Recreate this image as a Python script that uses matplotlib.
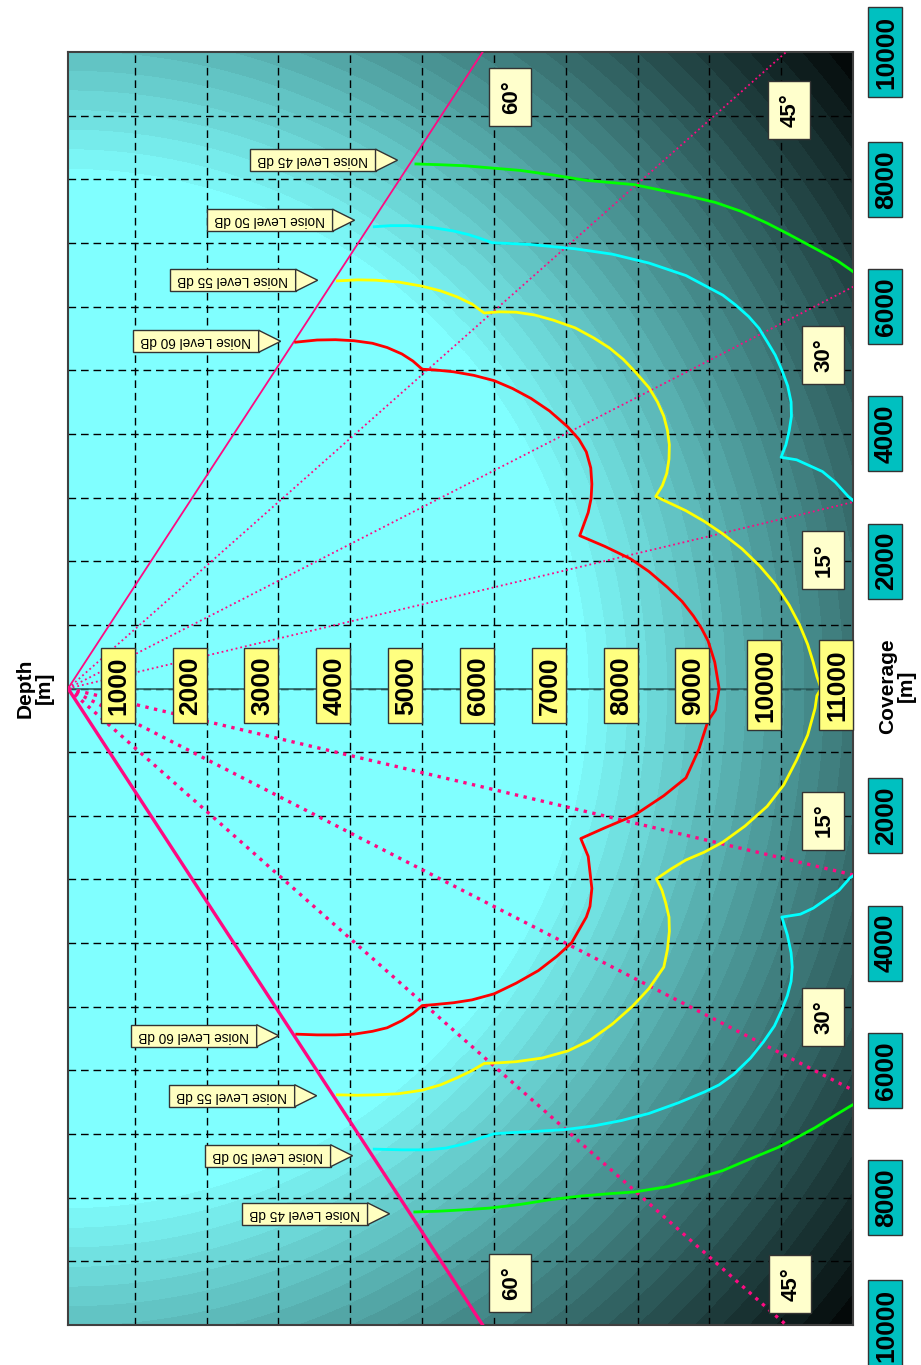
import numpy as np
import matplotlib
matplotlib.use('Agg')
import matplotlib.pyplot as plt
import matplotlib.transforms as mtransforms
from matplotlib.patches import Rectangle, Polygon

plt.rcParams['font.family'] = ['Liberation Sans', 'DejaVu Sans']

# chart is turned on its side: depth runs left -> right, coverage up/down
depth_min, depth_max = 70, 11000
cov_min, cov_max = -10000, 10000
apex_depth = 70

depth_labels = [1000, 2000, 3000, 4000, 5000, 6000, 7000, 8000, 9000, 10000, 11000]
cov_ticks = [10000, 8000, 6000, 4000, 2000, -2000, -4000, -6000, -8000, -10000]
sector_angles = [15, 30, 45, 60]

# coverage contours, upper branch then lower branch (nan = break)
red_depth = [3240, 3538, 3795, 4051, 4308, 4514, 4719, 4872, 5002, 5180, 5438, 5720, 6003,
             6260, 6517, 6774, 7030, 7185, 7287, 7349, 7364, 7354, 7313, 7195, 7544, 7903,
             8160, 8417, 8622, 8777, 8890, 8982, 9075, 9136,
             9085, 8982, 8854, 8674, 8366, 7955, 7544, 7210, 7313, 7364, 7338, 7287, 7082,
             6876, 6619, 6311, 6003, 5695, 5438, 5181, 5002, 4873, 4719, 4514, 4308, 4051,
             3795, 3538, 3255]
red_cov = [5441, 5475, 5480, 5464, 5424, 5357, 5256, 5145, 5016, 5005, 4976, 4920, 4837,
           4713, 4557, 4361, 4109, 3913, 3717, 3465, 3213, 2989, 2765, 2401, 2233, 2037,
           1837, 1589, 1365, 1141, 946, 749, 414, 0,
           -338, -506, -955, -1404, -1684, -1993, -2189, -2357, -2638, -3142, -3423, -3591, -3995,
           -4208, -4432, -4629, -4797, -4892, -4937, -4965, -4982, -5105, -5218, -5330, -5386, -5431,
           -5442, -5442, -5431]

yellow_depth = [3820, 4103, 4360, 4668, 5002, 5258, 5489, 5695, 5864, 6080, 6311, 6568, 6825,
                7133, 7390, 7610, 7801, 7980, 8160, 8278, 8366, 8417, 8443, 8438, 8407, 8346,
                8253, 8674, 8931, 9188, 9455, 9701, 9922, 10112, 10256, 10369, 10446, 10497, 10556,
                10497, 10472, 10369, 10215, 10035, 9804, 9496, 9188, 8931, 8674, 8468, 8263,
                8340, 8392, 8438, 8443, 8417, 8366, 8160, 7929, 7647, 7338, 7030, 6671, 6311,
                6080, 5864, 5695, 5489, 5258, 5002, 4668, 4360, 4103, 3820]
yellow_cov = [6404, 6420, 6415, 6387, 6320, 6247, 6152, 6040, 5900, 5918, 5912, 5868, 5788,
              5665, 5508, 5350, 5172, 4960, 4725, 4501, 4277, 4053, 3829, 3605, 3381, 3190,
              3017, 2793, 2625, 2429, 2194, 1925, 1634, 1309, 1001, 693, 413, 190, 0,
              -114, -310, -731, -1123, -1516, -1852, -2161, -2413, -2570, -2694, -2834, -2991,
              -3170, -3367, -3591, -3816, -4096, -4376, -4713, -4993, -5274, -5526, -5694, -5806, -5863,
              -5880, -5891, -6003, -6115, -6227, -6311, -6367, -6384, -6390, -6384]

cyan_depth = [4334, 4565, 4822, 5130, 5438, 5644, 5798, 5977, 6250, 6517, 7133, 7647, 8160,
              8674, 9188, 9367, 9547, 9691, 9804, 9917, 10009, 10091, 10138, 10143, 10112,
              10066, 9999, 10215, 10574, 10754, 10934, 11060, np.nan,
              11060, 10959, 10805, 10626, 10446, 10267, 10009, 10086, 10138, 10154, 10138,
              10086, 10009, 9906, 9752, 9573, 9341, 9136, 8931, 8571, 8160, 7775, 7390, 7005,
              6619, 6311, 6003, 5798, 5592, 5335, 5079, 4719, 4334]
cyan_cov = [7255, 7272, 7272, 7244, 7188, 7132, 7076, 7003, 6990, 6975, 6908, 6824, 6684,
            6488, 6180, 6024, 5844, 5659, 5452, 5239, 5004, 4753, 4501, 4277, 4053,
            3829, 3633, 3593, 3409, 3241, 3017, 2900, np.nan,
            -2900, -2974, -3171, -3311, -3451, -3546, -3591, -3872, -4152, -4376, -4601,
            -4825, -5049, -5302, -5554, -5806, -6059, -6227, -6339, -6508, -6676, -6788, -6872, -6928,
            -6956, -6973, -6996, -7068, -7153, -7220, -7248, -7248, -7237]

green_depth = [4914, 5233, 5592, 6363, 6825, 7287, 7955, 8674, 9085, 9444, 9804, 10112, 10574,
               10780, 10959, 11060, np.nan,
               11060, 10959, 10728, 10472, 10215, 9958, 9598, 9188, 8777, 8417, 7955, 7595,
               7184, 6773, 6363, 5952, 5592, 5233, 4899]
green_cov = [8241, 8230, 8213, 8140, 8067, 7983, 7916, 7748, 7636, 7496, 7311, 7132, 6852,
             6723, 6583, 6500, np.nan,
             -6500, -6564, -6721, -6900, -7057, -7209, -7377, -7573, -7713, -7826, -7910, -7938,
             -7977, -8033, -8106, -8162, -8190, -8212, -8224]

noise_levels = [60, 55, 50, 45]
noise_colors = ['#FF0000', '#FFFF00', '#00FFFF', '#00FF00']
noise_tip_depth_up = [3031, 3546, 4060, 4658]
noise_tip_cov_up = [5455, 6414, 7357, 8300]
noise_tip_depth_lo = [3003, 3532, 4032, 4547]
noise_tip_cov_lo = [-5455, -6398, -7341, -8253]

angle_text = ['60°', '45°', '30°', '15°', '15°', '30°', '60°', '45°']
angle_depth = [6230, 10111, 10584, 10584, 10584, 10584, 6230, 10125]
angle_cov = [9290, 9086, 5235, 2012, -2075, -5156, -9338, -9353]

DPI = 100
fig = plt.figure(figsize=(9.21, 13.65), dpi=DPI)
ax = fig.add_axes([68 / 921, 1 - 1325 / 1365, 785 / 921, 1273 / 1365])

# background: banded radial shading around the transducer
W, H = 785, 1273
px = np.arange(W) + 0.5
py = np.arange(H) + 0.5
gx, gy = np.meshgrid(px, py)
r = np.hypot(gx - (apex_depth - depth_min) * W / (depth_max - depth_min), gy - H / 2)
f = np.clip((r - 500) / 510, 0, 1)
f = np.floor(f * 26) / 26
base = np.array([128, 255, 255]) / 255
img = base[None, None, :] * (1 - f)[..., None]
ax.imshow(img, extent=(depth_min, depth_max, cov_min, cov_max), origin='upper',
          aspect='auto', interpolation='nearest', zorder=0)

ax.set_xlim(depth_min, depth_max)
ax.set_ylim(cov_min, cov_max)
ax.set_xticks(range(1000, 11000, 1000))
ax.set_yticks(range(-9000, 10000, 1000))
ax.tick_params(length=0, labelbottom=False, labelleft=False)
ax.grid(True, color='black', linestyle=(0, (5.5, 3.5)), lw=1)
for s in ax.spines.values():
    s.set_color('#404040')
    s.set_linewidth(1.5)

# centre line
ax.plot([apex_depth, depth_max], [0, 0], color='#2F6464', lw=1.2, zorder=2)

# sector lines
pink = '#FF0A82'
for a in sector_angles:
    far = depth_max * 2
    c = (far - apex_depth) * np.tan(np.radians(a))
    ls = '-' if a == 60 else ':'
    ax.plot([apex_depth, far], [0, c], color=pink, lw=1.3, ls=ls, zorder=3)
    ax.plot([apex_depth, far], [0, -c], color=pink, lw=2.4, ls=ls, zorder=3)

# contours
for d, c, col in [(red_depth, red_cov, noise_colors[0]),
                  (yellow_depth, yellow_cov, noise_colors[1]),
                  (cyan_depth, cyan_cov, noise_colors[2]),
                  (green_depth, green_cov, noise_colors[3])]:
    ax.plot(d, c, color=col, lw=2, zorder=4, solid_joinstyle='round')


def px_trans(x, y):
    return fig.dpi_scale_trans + mtransforms.ScaledTranslation(x, y, ax.transData)


def box(x, y, w, h, fc, dx=0, dy=0, z=6):
    ax.add_patch(Rectangle(((dx - w / 2) / DPI, (dy - h / 2) / DPI), w / DPI, h / DPI,
                           transform=px_trans(x, y), fc=fc, ec='#333333', lw=1,
                           zorder=z, clip_on=False))


def txt(x, y, s, dx=0, dy=0, **kw):
    tr = ax.transData + mtransforms.ScaledTranslation(dx / DPI, dy / DPI, fig.dpi_scale_trans)
    ax.text(x, y, s, transform=tr, ha='center', va='center', zorder=7, clip_on=False, **kw)


# depth labels on the centre line
for d in depth_labels:
    s = str(d)
    h = 15 + 15 * len(s)
    box(d, 50, 34, h, '#FFFF80', dx=-17)
    txt(d, 50, s, dx=-16, rotation=90, fontsize=19, fontweight='bold')

# coverage labels outside on the right
for c in cov_ticks:
    s = str(abs(c))
    h = 15 + 15 * len(s)
    box(depth_max, c, 34, h, '#00C0C0', dx=32)
    txt(depth_max, c, s, dx=33, rotation=90, fontsize=19, fontweight='bold')

# angle labels
for s, d, c in zip(angle_text, angle_depth, angle_cov):
    box(d, c, 42, 58, '#FFFFCC')
    txt(d, c, s, dx=1, rotation=90, fontsize=16, fontweight='bold')

# noise level arrow labels
for lvl, d1, c1, d2, c2 in zip(noise_levels, noise_tip_depth_up, noise_tip_cov_up,
                               noise_tip_depth_lo, noise_tip_cov_lo):
    for d, c in [(d1, c1), (d2, c2)]:
        tr = px_trans(d, c)
        ax.add_patch(Rectangle((-148 / DPI, -11 / DPI), 126 / DPI, 22 / DPI, transform=tr,
                               fc='#FFFFC0', ec='#333333', lw=1, zorder=6, clip_on=False))
        ax.add_patch(Polygon([(-22 / DPI, 11 / DPI), (0, 0), (-22 / DPI, -11 / DPI)],
                             closed=True, transform=tr, fc='#FFFFC0', ec='#333333',
                             lw=1, zorder=6, clip_on=False))
        txt(d, c, 'Noise Level %d dB' % lvl, dx=-85, rotation=180, fontsize=9.8)

fig.text(35 / 921, 1 - 688 / 1365, 'Depth\n[m]', rotation=90, ha='center', va='center',
         multialignment='center', fontsize=15, fontweight='bold', linespacing=1.0)
fig.text(897 / 921, 1 - 686 / 1365, 'Coverage\n[m]', rotation=90, ha='center', va='center',
         multialignment='center', fontsize=15, fontweight='bold', linespacing=1.0)

fig.savefig('out.png', dpi=DPI)
